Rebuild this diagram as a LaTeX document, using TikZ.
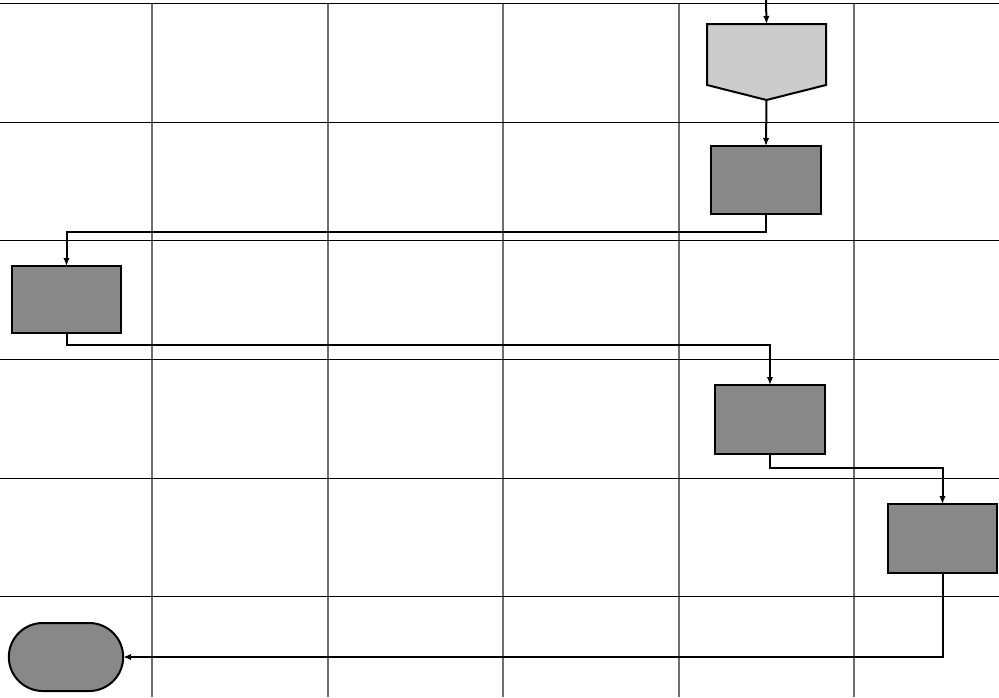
\documentclass[tikz,border=0pt]{standalone}
\usepackage{xcolor}
\usepackage{tikz}
\usetikzlibrary{calc, shapes.misc, arrows.meta, positioning}

\definecolor{lanegray}{HTML}{6E6E6E}
\definecolor{boxgray}{HTML}{888888}
\definecolor{pagegray}{HTML}{CCCCCC}

\begin{document}
\begin{tikzpicture}[>={Latex[length=8pt, width=6.5pt]}, x=1pt, y=-1pt,
    task/.style={draw, line width=2pt, fill=boxgray, minimum width=110pt, minimum height=68pt, outer sep=0pt},
    flow/.style={->, line width=2pt},
    endbox/.style={draw, line width=2pt, fill=boxgray, rounded rectangle, minimum width=121pt, minimum height=68pt, outer sep=0pt}]
    \useasboundingbox (0,0) rectangle (999,697);

    % Bahnen
    \foreach \x in {152,328,503,679,854}
        \draw[lanegray, line width=1.3pt] (\x,3) -- (\x,697);
    \foreach \y in {3,122,240,359,478,596}
        \draw[line width=0.9pt] (0,\y) -- (999,\y);

    % Verbinder oben
    \coordinate (start) at (766,0);
    \node[minimum width=119pt, minimum height=76pt, outer sep=0pt] (off) at (766.5,62) {};
    \filldraw[fill=pagegray, line width=2pt] (off.north west) -- (off.north east)
        -- ([yshift=15pt]off.south east) -- (off.south) -- ([yshift=15pt]off.south west) -- cycle;

    % Schritte
    \node[task] (box1) at (766,180) {};
    \node[task, minimum width=109pt, minimum height=67pt] (box2) at (66.5,299.5) {};
    \node[task, minimum height=69pt] (box3) at (770,419.5) {};
    \node[task, minimum width=109pt, minimum height=69pt] (box4) at (942.5,538.5) {};
    \node[endbox] (ende) at (66,657) {};

    % Pfeile
    \draw[flow] (start) -- (off.north);
    \draw[flow] (off.south) -- (box1.north);
    \draw[flow] (box1.south) -- ++(0,18) -| (box2.north);
    \draw[flow] (box2.south) -- ++(0,12) -| (box3.north);
    \draw[flow] (box3.south) -- ++(0,14) -| (box4.north);
    \draw[flow] (box4.south) |- (ende.east);
\end{tikzpicture}
\end{document}
